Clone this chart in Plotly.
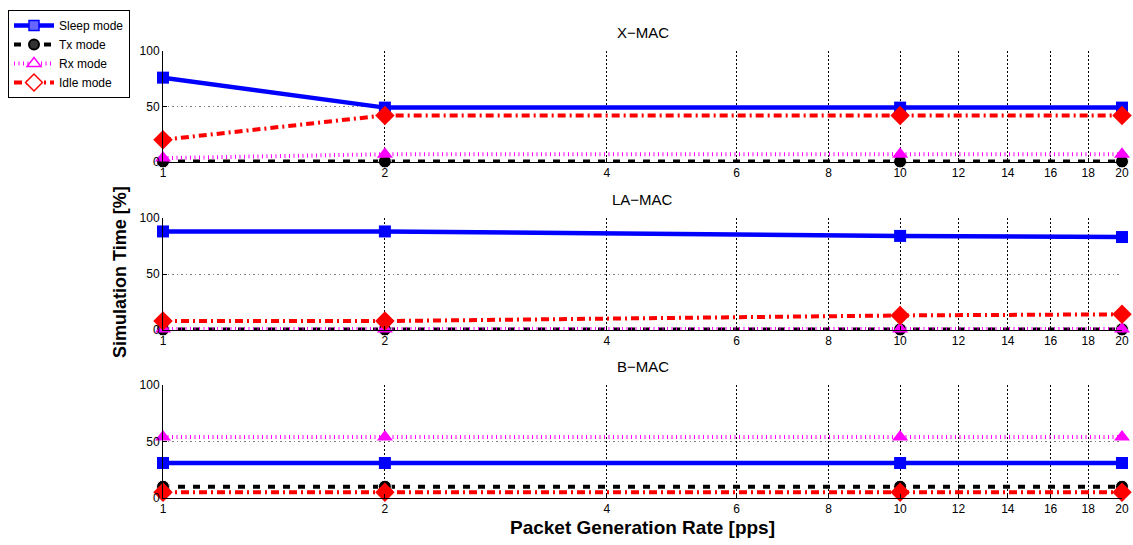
import math
import plotly.graph_objects as go
from plotly.subplots import make_subplots

# ---- data ----
rates = [1, 2, 10, 20]
tick_vals = [1, 2, 4, 6, 8, 10, 12, 14, 16, 18, 20]
panels = ["X\u2212MAC", "LA\u2212MAC", "B\u2212MAC"]

xmac_sleep = [76, 49, 49, 49]
xmac_tx = [0.5, 0.5, 0.5, 0.5]
xmac_rx = [3.5, 7, 7, 7]
xmac_idle = [20, 42, 42, 42]

lamac_sleep = [88, 88, 84, 83]
lamac_tx = [0.5, 0.5, 0.5, 0.5]
lamac_rx = [1, 1, 1, 1]
lamac_idle = [8, 8, 13, 14]

bmac_sleep = [31, 31, 31, 31]
bmac_tx = [10, 10, 10, 10]
bmac_rx = [54, 54, 54, 54]
bmac_idle = [5, 5, 5, 5]

series_names = ["Sleep mode", "Tx mode", "Rx mode", "Idle mode"]
panel_data = [
    [xmac_sleep, xmac_tx, xmac_rx, xmac_idle],
    [lamac_sleep, lamac_tx, lamac_rx, lamac_idle],
    [bmac_sleep, bmac_tx, bmac_rx, bmac_idle],
]

lines = [
    dict(color="#0000ff", width=4.5, dash="solid"),
    dict(color="black", width=4, dash="7px,8px"),
    dict(color="#ff00ff", width=4, dash="1px,3.5px"),
    dict(color="#ff0000", width=4, dash="8px,4px,2px,4px"),
]
plot_markers = [
    dict(symbol="square", size=12, color="#0000ff"),
    dict(symbol="circle", size=13, color="black", line=dict(color="white", width=1)),
    dict(symbol="triangle-up", size=14, color="#ff00ff"),
    dict(symbol="diamond", size=15, color="#ff0000"),
]
legend_markers = [
    dict(symbol="square", size=10, color="#6666ff", line=dict(color="#0000ff", width=1.5)),
    dict(symbol="circle", size=10, color="#333333", line=dict(color="black", width=2)),
    dict(symbol="triangle-up", size=12, color="white", line=dict(color="#ff00ff", width=1.5)),
    dict(symbol="diamond", size=13, color="white", line=dict(color="#ff0000", width=1.5)),
]

W, H = 1133, 545
fig = make_subplots(rows=3, cols=1)

for p, vals in enumerate(panel_data):
    for s, ys in enumerate(vals):
        fig.add_trace(go.Scatter(
            x=rates, y=ys, mode="lines+markers", name=series_names[s],
            showlegend=False, cliponaxis=False,
            line=lines[s], marker=plot_markers[s]),
            row=p + 1, col=1)

# legend entries (no data drawn)
for s in range(4):
    fig.add_trace(go.Scatter(
        x=[None], y=[None], mode="lines+markers", name=series_names[s],
        showlegend=True, line=lines[s], marker=legend_markers[s]), row=1, col=1)

# layout geometry (pixels -> paper)
x0, x1 = 163 / W, 1122 / W
ydoms = [(51, 162), (218, 330), (385, 498)]
font_family = "Liberation Sans, Arial, sans-serif"

for i, (top, bot) in enumerate(ydoms):
    xa = "xaxis" if i == 0 else f"xaxis{i+1}"
    ya = "yaxis" if i == 0 else f"yaxis{i+1}"
    fig.layout[xa].update(
        domain=[x0, x1], type="log", range=[0, math.log10(20)],
        tickvals=tick_vals, ticktext=[str(v) for v in tick_vals],
        showgrid=True, gridcolor="black", griddash="1.5px,2.5px", gridwidth=1.2,
        showline=True, linecolor="black", linewidth=1,
        ticks="inside", ticklen=4, tickcolor="black",
        tickfont=dict(size=12, color="black", family=font_family),
        zeroline=False, automargin=False)
    fig.layout[ya].update(
        domain=[1 - bot / H, 1 - top / H], range=[0, 100],
        tickvals=[0, 50, 100],
        showgrid=True, gridcolor="#808080", griddash="1.5px,3px", gridwidth=1,
        showline=True, linecolor="black", linewidth=1,
        ticks="inside", ticklen=4, tickcolor="black",
        tickfont=dict(size=12, color="black", family=font_family),
        zeroline=False, automargin=False)
    fig.add_annotation(text=panels[i], xref="paper", yref="paper",
                       x=(x0 + x1) / 2, y=1 - (top - 19) / H, yanchor="middle",
                       showarrow=False, font=dict(size=15, color="black", family=font_family))

fig.add_annotation(text="<b>Simulation Time [%]</b>", xref="paper", yref="paper",
                   x=120 / W, y=1 - 272 / H, textangle=-90, showarrow=False,
                   xanchor="center", yanchor="middle",
                   font=dict(size=18, color="black", family=font_family))
fig.add_annotation(text="<b>Packet Generation Rate [pps]</b>", xref="paper", yref="paper",
                   x=(x0 + x1) / 2, y=1 - 527 / H, showarrow=False,
                   xanchor="center", yanchor="middle",
                   font=dict(size=19, color="black", family=font_family))

fig.update_layout(
    width=W, height=H, margin=dict(l=0, r=0, t=0, b=0, autoexpand=False),
    paper_bgcolor="white", plot_bgcolor="white",
    font=dict(family=font_family, color="black"),
    legend=dict(x=8 / W, y=1 - 10 / H, xanchor="left", yanchor="top",
                bgcolor="white", bordercolor="black", borderwidth=1,
                font=dict(size=12, color="black", family=font_family),
                tracegroupgap=0, itemwidth=40),
)

fig.write_html("out.html", config={"displayModeBar": False},
               post_script="document.body.style.margin='0';document.body.style.overflow='hidden';")
